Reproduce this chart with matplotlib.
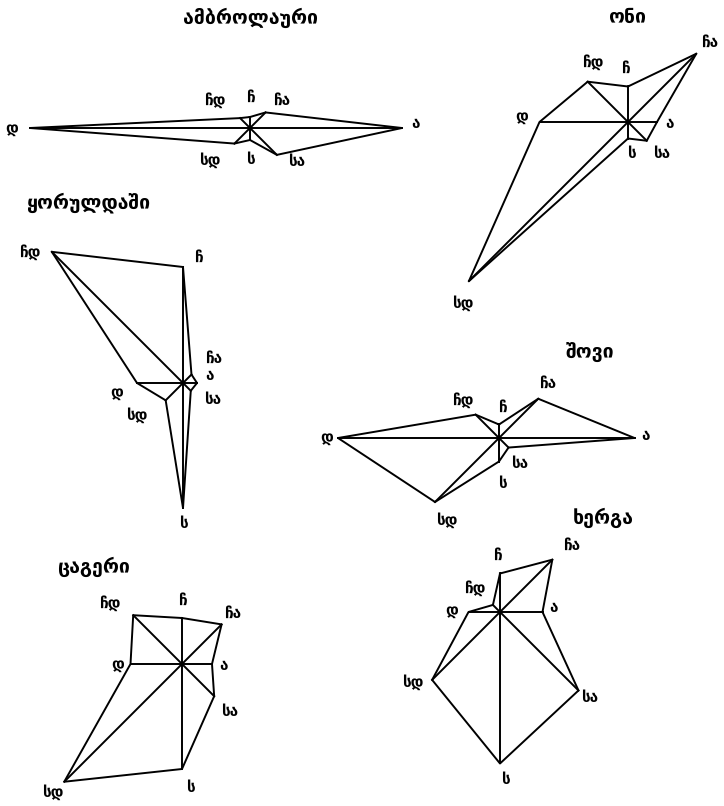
import numpy as np
import matplotlib.pyplot as plt

plt.rcParams['font.family'] = ['DejaVu Sans', 'DejaVu Serif']

# wind directions (N, NE, E, SE, S, SW, W, NW)
dirs = ['ჩ', 'ჩა', 'ა', 'სა', 'ს', 'სდ', 'დ', 'ჩდ']
angles = [0, 45, 90, 135, 180, 225, 270, 315]

# frequency of winds, %
ambrolauri = [2.2, 4.4, 30.4, 7.6, 2.4, 4.4, 44.0, 2.8]
oni = [7.1, 19.3, 5.8, 5.3, 3.3, 45.0, 17.7, 11.4]
koruldashi = [23.2, 2.4, 2.8, 2.2, 25.0, 4.9, 9.2, 37.1]
shovi = [2.7, 11.1, 27.1, 2.7, 4.7, 18.1, 32.2, 6.6]
tsageri = [9.2, 11.2, 6.0, 9.1, 21.0, 33.3, 10.3, 13.8]
kherga = [7.7, 14.8, 8.5, 22.2, 30.3, 19.2, 6.3, 2.0]

W, H = 724, 806
fig = plt.figure(figsize=(W / 100, H / 100), dpi=100)


def rose(name, vals, cx, cy, lab_off, tx, ty):
    R = 50  # pixels for 10 %
    ax = fig.add_axes([(cx - R) / W, 1 - (cy + R) / H, 2 * R / W, 2 * R / H],
                      projection='polar')
    ax.set_theta_zero_location('N')
    ax.set_theta_direction(-1)
    ax.set_ylim(0, 10)
    ax.axis('off')
    th = np.deg2rad(angles)
    for t, v in zip(th, vals):
        ax.plot([t, t], [0, v], color='black', lw=1.4, clip_on=False)
    ax.plot(np.append(th, th[0]), vals + [vals[0]], color='black', lw=1.4,
            clip_on=False)
    for lab, (dx, dy) in zip(dirs, lab_off):
        ax.annotate(lab, xy=(0, 0), xytext=(dx, -dy), textcoords='offset pixels',
                    ha='center', va='center', fontsize=11, fontweight='bold',
                    annotation_clip=False)
    fig.text(tx / W, 1 - ty / H, name, ha='center', va='center', fontsize=14,
             fontweight='bold')


rose('ამბროლაური', ambrolauri, 250, 128,
     [(0, -31), (32, -28), (165, -4), (47, 34), (0, 32), (-40, 32), (-238, 0), (-35, -28)],
     250, 18)
rose('ონი', oni, 628, 122,
     [(-3, -54), (82, -80), (41, 2), (34, 32), (3, 32), (-165, 181), (-106, -5), (-35, -60)],
     627, 17)
rose('ყორულდაში', koruldashi, 183, 383,
     [(15, -126), (31, -25), (26, -7), (30, 17), (0, 140), (-46, 32), (-66, 9), (-153, -131)],
     88, 203)
rose('შოვი', shovi, 499, 438,
     [(3, -31), (49, -55), (146, -3), (21, 25), (3, 45), (-52, 82), (-172, -1), (-36, -38)],
     590, 353)
rose('ცაგერი', tsageri, 182, 664,
     [(0, -64), (51, -51), (41, 1), (48, 48), (8, 123), (-129, 128), (-64, 1), (-72, -61)],
     93, 567)
rose('ხერგა', kherga, 500, 612,
     [(-3, -57), (72, -67), (53, -4), (90, 85), (5, 168), (-87, 70), (-48, -2), (-25, -24)],
     603, 518)

fig.savefig('out.png', dpi=100)
